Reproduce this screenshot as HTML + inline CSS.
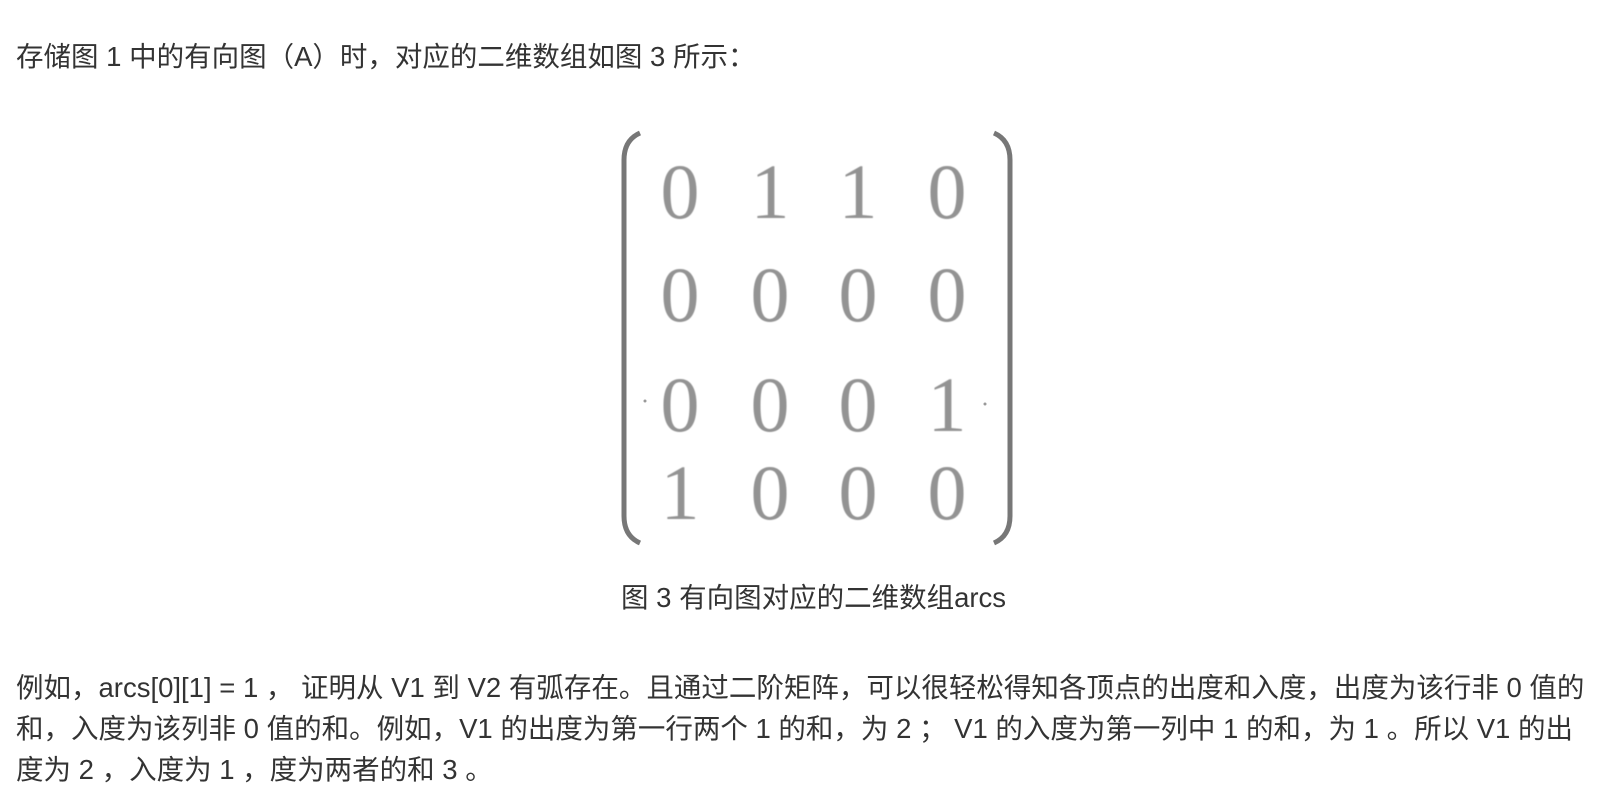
<!DOCTYPE html>
<html><head><meta charset="utf-8"><style>
body{margin:0;width:1622px;height:806px;background:#fff;position:relative;overflow:hidden;font-family:"Liberation Sans","Noto Sans CJK SC",sans-serif;color:#333;}
.t{position:absolute;white-space:nowrap;font-size:27.5px;line-height:40px;}
.d{position:absolute;font-family:"Liberation Serif",serif;font-size:78px;color:#939393;width:60px;text-align:center;line-height:100px;filter:blur(0.5px);}
</style></head><body>
<div class="t" style="left:16px;top:37px;">存储图 1 中的有向图（A）时，对应的二维数组如图 3 所示：</div>
<svg style="position:absolute;left:0;top:0" width="1622" height="806">
<path d="M640 133 Q624 140 624 160 L624 516 Q624 536 640 543" fill="none" stroke="#777" stroke-width="5"/>
<path d="M994 133 Q1010 140 1010 160 L1010 516 Q1010 536 994 543" fill="none" stroke="#777" stroke-width="5"/>
<circle cx="645" cy="401" r="1.5" fill="#999"/><circle cx="985" cy="404" r="1.5" fill="#999"/>
</svg>
<div class="d" style="left:650px;top:142px">0</div><div class="d" style="left:740px;top:142px">1</div><div class="d" style="left:828px;top:142px">1</div><div class="d" style="left:917px;top:142px">0</div>
<div class="d" style="left:650px;top:245px">0</div><div class="d" style="left:740px;top:245px">0</div><div class="d" style="left:828px;top:245px">0</div><div class="d" style="left:917px;top:245px">0</div>
<div class="d" style="left:650px;top:355px">0</div><div class="d" style="left:740px;top:355px">0</div><div class="d" style="left:828px;top:355px">0</div><div class="d" style="left:917px;top:355px">1</div>
<div class="d" style="left:650px;top:443px">1</div><div class="d" style="left:740px;top:443px">0</div><div class="d" style="left:828px;top:443px">0</div><div class="d" style="left:917px;top:443px">0</div>
<div class="t" style="left:621px;top:578px;">图 3 有向图对应的二维数组arcs</div>
<div class="t" style="left:16px;top:668px;">例如，arcs[0][1] = 1 ， 证明从 V1 到 V2 有弧存在。且通过二阶矩阵，可以很轻松得知各顶点的出度和入度，出度为该行非 0 值的</div>
<div class="t" style="left:16px;top:709px;">和，入度为该列非 0 值的和。例如，V1 的出度为第一行两个 1 的和，为 2 ； V1 的入度为第一列中 1 的和，为 1 。所以 V1 的出</div>
<div class="t" style="left:16px;top:750px;">度为 2 ，入度为 1 ，度为两者的和 3 。</div>
</body></html>
